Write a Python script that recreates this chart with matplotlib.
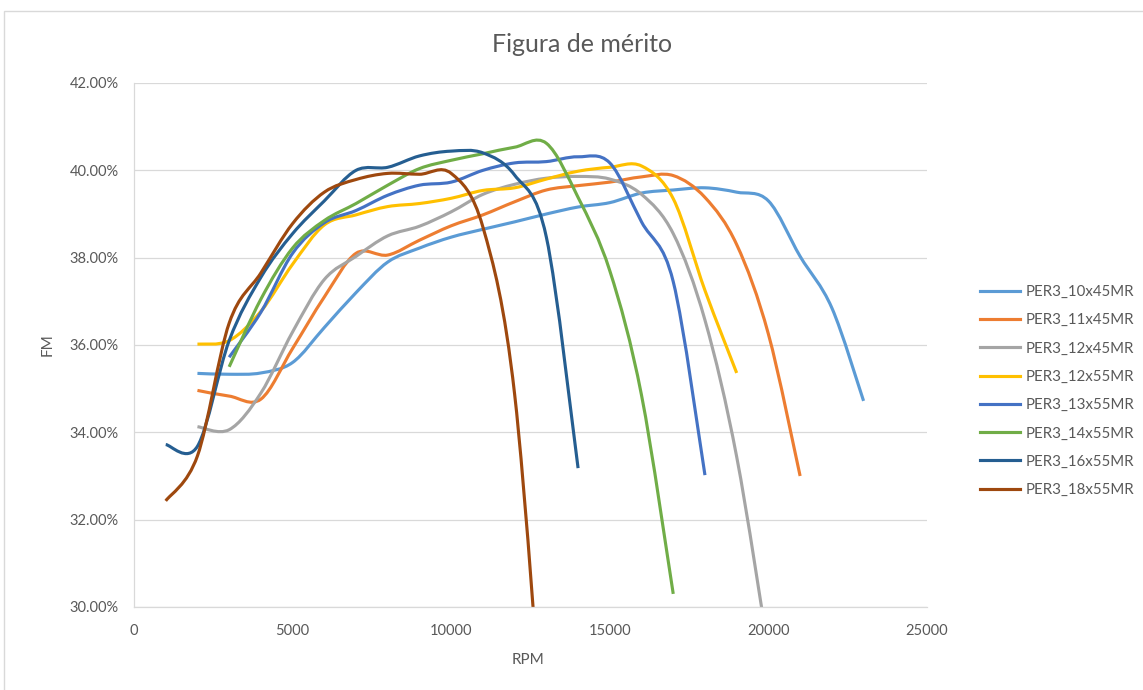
import matplotlib
matplotlib.use("Agg")
import matplotlib.pyplot as plt
from matplotlib.path import Path
from matplotlib.patches import PathPatch, Rectangle
from matplotlib.lines import Line2D
from matplotlib.ticker import FuncFormatter

# data (RPM, figure of merit in %)
labels = ["PER3_10x45MR", "PER3_11x45MR", "PER3_12x45MR", "PER3_12x55MR",
          "PER3_13x55MR", "PER3_14x55MR", "PER3_16x55MR", "PER3_18x55MR"]
colors = ["#5B9BD5", "#ED7D31", "#A5A5A5", "#FFC000",
          "#4472C4", "#70AD47", "#255E91", "#9E480E"]

rpm_10x45 = list(range(2000, 23001, 1000))
fm_10x45 = [35.35, 35.33, 35.36, 35.6, 36.4, 37.2, 37.9, 38.22, 38.47, 38.65, 38.82,
            39.0, 39.16, 39.26, 39.48, 39.55, 39.6, 39.5, 39.3, 38.03, 36.85, 34.72]

rpm_11x45 = list(range(2000, 21001, 1000))
fm_11x45 = [34.96, 34.83, 34.76, 35.92, 37.1, 38.1, 38.06, 38.4, 38.73, 38.98,
            39.28, 39.55, 39.65, 39.73, 39.85, 39.88, 39.38, 38.3, 36.25, 33.0]

rpm_12x45 = list(range(2000, 20001, 1000))
fm_12x45 = [34.13, 34.06, 34.9, 36.3, 37.5, 38.03, 38.5, 38.72, 39.05, 39.45,
            39.68, 39.82, 39.86, 39.8, 39.45, 38.55, 36.57, 33.44, 29.0]

rpm_12x55 = list(range(2000, 19001, 1000))
fm_12x55 = [36.02, 36.1, 36.77, 37.85, 38.75, 38.98, 39.17, 39.24, 39.36, 39.54,
            39.6, 39.8, 39.98, 40.07, 40.1, 39.35, 37.25, 35.36]

rpm_13x55 = list(range(3000, 18001, 1000))
fm_13x55 = [35.72, 36.75, 38.1, 38.8, 39.08, 39.43, 39.66, 39.73, 40.0, 40.17,
            40.2, 40.31, 40.17, 38.82, 37.45, 33.02]

rpm_14x55 = list(range(3000, 17001, 1000))
fm_14x55 = [35.5, 37.05, 38.22, 38.85, 39.24, 39.66, 40.04, 40.23, 40.38, 40.53,
            40.62, 39.38, 37.7, 34.85, 30.3]

rpm_16x55 = list(range(1000, 14001, 1000))
fm_16x55 = [33.72, 33.68, 36.1, 37.55, 38.55, 39.3, 40.0, 40.07, 40.33, 40.44,
            40.4, 39.89, 38.47, 33.18]

rpm_18x55 = list(range(1000, 13001, 1000))
fm_18x55 = [32.43, 33.46, 36.5, 37.65, 38.78, 39.5, 39.79, 39.93, 39.91, 39.93,
            38.7, 34.87, 26.0]

series = [(rpm_10x45, fm_10x45), (rpm_11x45, fm_11x45), (rpm_12x45, fm_12x45),
          (rpm_12x55, fm_12x55), (rpm_13x55, fm_13x55), (rpm_14x55, fm_14x55),
          (rpm_16x55, fm_16x55), (rpm_18x55, fm_18x55)]

x_ticks = [0, 5000, 10000, 15000, 20000, 25000]
y_ticks = [30, 32, 34, 36, 38, 40, 42]

TXT = "#595959"
GRID = "#D9D9D9"
plt.rcParams['font.family'] = ['Lato', 'DejaVu Sans']


def smooth_path(xs, ys):
    # excel-like smoothed line: cubic bezier through every point
    pts = list(zip(xs, ys))
    n = len(pts)
    verts = [pts[0]]
    codes = [Path.MOVETO]
    for i in range(n - 1):
        p0 = pts[max(i - 1, 0)]
        p1 = pts[i]
        p2 = pts[i + 1]
        p3 = pts[min(i + 2, n - 1)]
        c1 = (p1[0] + (p2[0] - p0[0]) / 6, p1[1] + (p2[1] - p0[1]) / 6)
        c2 = (p2[0] - (p3[0] - p1[0]) / 6, p2[1] - (p3[1] - p1[1]) / 6)
        verts += [c1, c2, p2]
        codes += [Path.CURVE4] * 3
    return Path(verts, codes)


fig = plt.figure(figsize=(11.43, 6.9), dpi=100)
ax = fig.add_axes([134 / 1143, 83 / 690, 793 / 1143, 524 / 690])

# chart area border
fig.patches.append(Rectangle((4 / 1143, -0.05), 1.2, 1 - 11 / 690 + 0.05,
                             transform=fig.transFigure, fill=False,
                             edgecolor=GRID, lw=1.0))

handles = []
for (xs, ys), c, lab in zip(series, colors, labels):
    patch = PathPatch(smooth_path(xs, ys), facecolor="none", edgecolor=c,
                      lw=2.25, capstyle="butt", joinstyle="round")
    ax.add_patch(patch)
    handles.append(Line2D([], [], color=c, lw=2.25, label=lab))

ax.set_xlim(0, 25000)
ax.set_ylim(30, 42)
ax.set_xticks(x_ticks)
ax.set_yticks(y_ticks)
ax.yaxis.set_major_formatter(FuncFormatter(lambda v, p: f"{v:.2f}%"))
ax.xaxis.set_major_formatter(FuncFormatter(lambda v, p: f"{int(v)}"))
ax.tick_params(length=0, labelsize=10.5, labelcolor=TXT)
ax.tick_params(axis="y", pad=11)
ax.tick_params(axis="x", pad=12)
ax.grid(axis="y", color=GRID, lw=0.9)
ax.set_axisbelow(True)
for s in ["top", "right"]:
    ax.spines[s].set_visible(False)
for s in ["left", "bottom"]:
    ax.spines[s].set_color(GRID)
    ax.spines[s].set_linewidth(0.9)

fig.text(582 / 1143, 1 - 45 / 690, "Figura de mérito", ha="center", va="center",
         fontsize=18, color=TXT)
fig.text(48 / 1143, 1 - 345 / 690, "FM", ha="center", va="center",
         rotation=90, fontsize=11, color=TXT)
fig.text(528 / 1143, 1 - 660 / 690, "RPM", ha="center", va="center",
         fontsize=11, color=TXT)

fig.legend(handles=handles, loc="center left",
           bbox_to_anchor=(966 / 1143, 1 - 391 / 690), frameon=False,
           fontsize=10.8, labelcolor=TXT, handlelength=2.7,
           handletextpad=0.35, labelspacing=0.95)

fig.savefig("out.png", dpi=100)
